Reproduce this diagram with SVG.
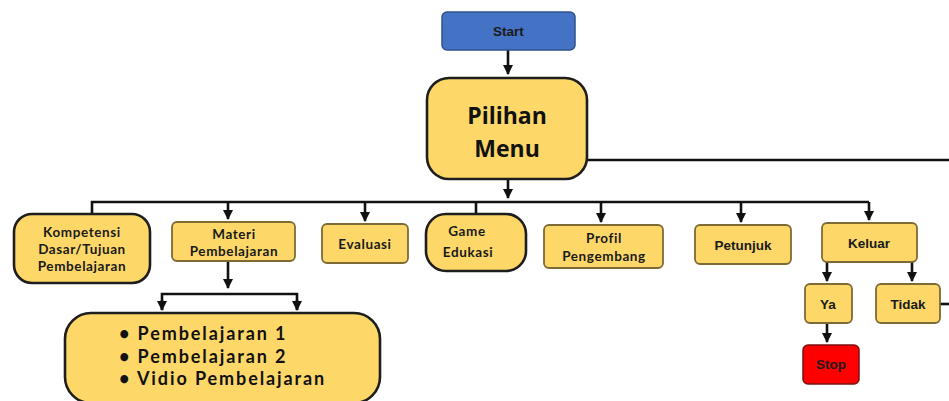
<svg xmlns="http://www.w3.org/2000/svg" width="949" height="401" viewBox="0 0 949 401">
<defs>
<marker id="ah" viewBox="0 0 10 10" refX="9" refY="5" markerWidth="4" markerHeight="4" orient="auto" markerUnits="strokeWidth">
<path d="M0,0 L10,5 L0,10 z" fill="#111"/>
</marker>
<style>
.bg{fill:#fff}
.y{fill:#FDD868;stroke:#7d6a35;stroke-width:1.8}
.yt{fill:#FDD868;stroke:#1e1e1e;stroke-width:2.6}
.c{stroke:#111;stroke-width:2.6;fill:none}
.a{font-family:"Liberation Sans",Arial,sans-serif;font-weight:bold;font-size:13.5px;fill:#1a1a1a;text-anchor:middle}
.r{font-family:"Lato","Open Sans",sans-serif;font-weight:bold;font-size:13.5px;fill:#1a1a1a;text-anchor:middle;letter-spacing:0.6px}
.b{font-family:"Lato","Open Sans",sans-serif;font-weight:bold;font-size:18px;fill:#111;letter-spacing:1.9px}
</style>
</defs>
<rect class="bg" x="0" y="0" width="949" height="401"/>
<g id="connectors">
<path class="c" d="M508,50 V74" marker-end="url(#ah)"/>
<path class="c" d="M587,160 H949"/>
<path class="c" d="M508,179 V198" marker-end="url(#ah)"/>
<path class="c" d="M92,214 V202 H869"/>
<path class="c" d="M228,202 V219" marker-end="url(#ah)"/>
<path class="c" d="M365,202 V221" marker-end="url(#ah)"/>
<path class="c" d="M476,202 V214"/>
<path class="c" d="M601,202 V222" marker-end="url(#ah)"/>
<path class="c" d="M741,202 V222" marker-end="url(#ah)"/>
<path class="c" d="M869,202 V220" marker-end="url(#ah)"/>
<path class="c" d="M228,261 V288" marker-end="url(#ah)"/>
<path class="c" d="M162,310 V294 H297 V310" />
<path class="c" d="M162,300 V310" marker-end="url(#ah)"/>
<path class="c" d="M297,300 V310" marker-end="url(#ah)"/>
<path class="c" d="M827,262 V281" marker-end="url(#ah)"/>
<path class="c" d="M912,262 V281" marker-end="url(#ah)"/>
<path class="c" d="M827,323 V342" marker-end="url(#ah)"/>
<path class="c" d="M940,304 H949"/>
</g>
<g id="start">
<rect x="442" y="12" width="133" height="38" rx="5" fill="#4472C4" stroke="#2f528f" stroke-width="1.5"/>
<text class="a" x="508.5" y="36" font-size="12.5" fill="#1f2a44">Start</text>
</g>
<g id="pilihan-menu">
<rect class="yt" x="427" y="78" width="160" height="101" rx="22"/>
<text x="507" y="124" font-family="Open Sans,sans-serif" font-weight="bold" font-size="23" text-anchor="middle" fill="#111">Pilihan</text>
<text x="507" y="157" font-family="Open Sans,sans-serif" font-weight="bold" font-size="23" text-anchor="middle" fill="#111">Menu</text>
</g>
<g id="kompetensi">
<rect class="yt" x="14" y="214" width="136" height="69" rx="18"/>
<text class="r" x="82" y="237" font-size="12.5" letter-spacing="1.2px">Kompetensi</text>
<text class="r" x="82" y="254" font-size="12.5" letter-spacing="1.2px">Dasar/Tujuan</text>
<text class="r" x="82" y="271" font-size="12.5" letter-spacing="1.2px">Pembelajaran</text>
</g>
<g id="materi">
<rect class="y" x="172" y="222" width="123" height="39" rx="5"/>
<text class="r" x="234" y="239">Materi</text>
<text class="r" x="234" y="256">Pembelajaran</text>
</g>
<g id="sub-materi">
<rect class="yt" x="65" y="313" width="315" height="90" rx="26"/>
<text class="b" x="119" y="340">• Pembelajaran 1</text>
<text class="b" x="119" y="363">• Pembelajaran 2</text>
<text class="b" x="119" y="385">• Vidio Pembelajaran</text>
</g>
<g id="evaluasi">
<rect class="y" x="322" y="224" width="86" height="39" rx="5"/>
<text class="r" x="365" y="248.5">Evaluasi</text>
</g>
<g id="game-edukasi">
<rect class="yt" x="426" y="214" width="100" height="57" rx="20"/>
<text class="r" x="467" y="236" font-size="15" letter-spacing="1px">Game</text>
<text class="r" x="468" y="257" font-size="15" letter-spacing="1px">Edukasi</text>
</g>
<g id="profil">
<rect class="y" x="544" y="225" width="119" height="43" rx="5"/>
<text class="r" x="604" y="243">Profil</text>
<text class="r" x="604" y="261">Pengembang</text>
</g>
<g id="petunjuk">
<rect class="y" x="695" y="225" width="96" height="39" rx="5"/>
<text class="a" x="743" y="249.5">Petunjuk</text>
</g>
<g id="keluar">
<rect class="y" x="822" y="223" width="95" height="39" rx="5"/>
<text class="a" x="869" y="247.5">Keluar</text>
</g>
<g id="ya">
<rect class="y" x="805" y="284" width="47" height="39" rx="5"/>
<text class="a" x="828" y="308.5">Ya</text>
</g>
<g id="tidak">
<rect class="y" x="876" y="284" width="64" height="39" rx="5"/>
<text class="a" x="908" y="308.5">Tidak</text>
</g>
<g id="stop">
<rect x="803" y="345" width="56" height="39" rx="5" fill="#FF0000" stroke="#7a1010" stroke-width="1.5"/>
<text class="a" x="831" y="369" font-size="12" fill="#3a0a0a">Stop</text>
</g>
</svg>
